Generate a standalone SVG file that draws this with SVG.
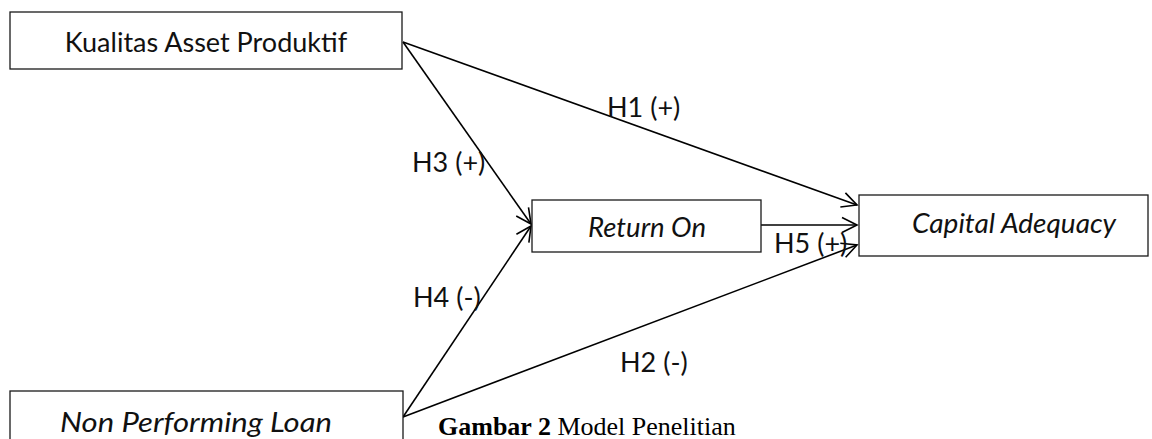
<svg xmlns="http://www.w3.org/2000/svg" width="1152" height="439" viewBox="0 0 1152 439">
  <style>
    .box { fill: #ffffff; stroke: #1a1a1a; stroke-width: 1.3; }
    .lbl { font-family: Lato, "Liberation Sans", sans-serif; font-size: 27px; fill: #111111; }
    .it { font-style: italic; }
    .edge { fill: none; stroke: #000000; stroke-width: 1.6; marker-end: url(#arrow); }
    .cap { font-family: "Liberation Serif", serif; font-size: 26px; fill: #000000; }
  </style>
  <defs>
    <marker id="arrow" markerUnits="userSpaceOnUse" markerWidth="22" markerHeight="22" viewBox="0 0 22 22" refX="18" refY="11" orient="auto">
      <path d="M3,3.5 L18,11 L3,18.5" fill="none" stroke="#000000" stroke-width="1.6"/>
    </marker>
  </defs>
  <rect width="1152" height="439" fill="#ffffff"/>

  <g id="connectors">
    <line class="edge" x1="403" y1="42" x2="857" y2="205"/>
    <line class="edge" x1="403" y1="42" x2="531" y2="224"/>
    <line class="edge" x1="761" y1="225" x2="857" y2="225"/>
    <line class="edge" x1="403" y1="417" x2="531" y2="226"/>
    <line class="edge" x1="403" y1="417" x2="857" y2="245"/>
    <text class="lbl" x="607" y="117">H1 (+)</text>
    <text class="lbl" x="620" y="372">H2 (-)</text>
    <text class="lbl" x="412" y="172">H3 (+)</text>
    <text class="lbl" x="413" y="307">H4 (-)</text>
    <text class="lbl" x="774" y="253">H5 (+)</text>
  </g>

  <g id="kualitas-asset-produktif">
    <rect class="box" x="10" y="12" width="392" height="57"/>
    <text class="lbl" x="206" y="52" text-anchor="middle">Kualitas Asset Produktif</text>
  </g>

  <g id="return-on">
    <rect class="box" x="532" y="200" width="229" height="52"/>
    <text class="lbl it" x="647" y="237" text-anchor="middle" textLength="118" lengthAdjust="spacingAndGlyphs">Return On</text>
  </g>

  <g id="capital-adequacy">
    <rect class="box" x="859" y="195" width="289" height="61"/>
    <text class="lbl it" x="1014" y="233" text-anchor="middle" textLength="204" lengthAdjust="spacingAndGlyphs">Capital Adequacy</text>
  </g>

  <g id="non-performing-loan">
    <rect class="box" x="10" y="391" width="393" height="60"/>
    <text class="lbl it" x="196" y="432" text-anchor="middle" font-size="28" textLength="272" lengthAdjust="spacingAndGlyphs">Non Performing Loan</text>
  </g>

  <text class="cap" x="438" y="435"><tspan font-weight="bold">Gambar 2</tspan> Model Penelitian</text>
</svg>
